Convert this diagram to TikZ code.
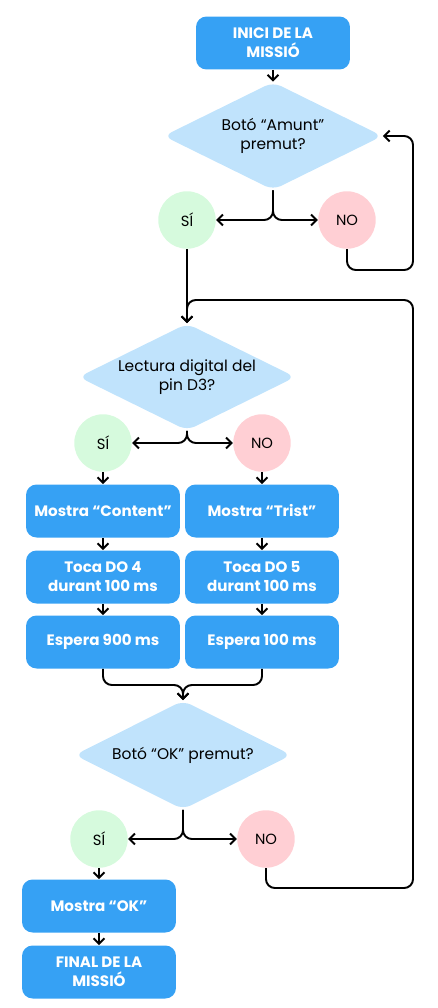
\documentclass[tikz,border=0pt]{standalone}
\usepackage{fontspec}
\setmainfont{Poppins}
\usepackage{tikz}
\usepackage{xcolor}
\usetikzlibrary{shapes.geometric, arrows.meta, positioning, calc}
\definecolor{FlowBlue}{HTML}{36A1F4}
\definecolor{FlowSky}{HTML}{C0E3FC}
\definecolor{FlowMint}{HTML}{D6FADD}
\definecolor{FlowRose}{HTML}{FFCFD4}
\definecolor{FlowBlack}{HTML}{000000}
\definecolor{FlowWhite}{HTML}{FFFFFF}
\tikzset{
    % Node styles
    actionbox/.style={
        rectangle,
        rounded corners=6pt,
        draw=none,
        fill=FlowBlue,
        minimum width=3.08cm,
        minimum height=1.06cm,
        align=center,
        text=FlowWhite,
        font=\fontsize{8.6}{10.8}\selectfont\bfseries
    },
    questionbox/.style={
        diamond,
        aspect=2,
        rounded corners=5pt,
        draw=none,
        fill=FlowSky,
        inner sep=0pt,
        minimum width=4.34cm,
        minimum height=2.14cm,
        align=center,
        font=\fontsize{8.8}{10.8}\selectfont
    },
    yesdot/.style={
        circle,
        draw=none,
        fill=FlowMint,
        minimum size=1.15cm,
        inner sep=0pt,
        font=\fontsize{8.4}{9}\selectfont
    },
    nodot/.style={
        circle,
        draw=none,
        fill=FlowRose,
        minimum size=1.15cm,
        inner sep=0pt,
        font=\fontsize{8.4}{9}\selectfont
    },
    % Arrow styles
    myarrow/.style={
        -{Straight Barb[length=1.1mm,width=2.2mm]},
        line width=1.1pt,
        rounded corners=5pt,
        FlowBlack
    }
}
\begin{document}
\begin{tikzpicture}[x=0.02cm, y=-0.02cm]
    \useasboundingbox (0,0) rectangle (437,1008);

    % Start and first question
    \node[actionbox] (start) at (273,43) {INICI DE LA\\MISSIÓ};
    \node[questionbox,minimum width=4.38cm,minimum height=2.16cm] (amunt) at (273,136) {Botó “Amunt”\\premut?};
    \node[yesdot] (yes1) at (187,220) {SÍ};
    \node[nodot] (no1) at (347,220) {NO};

    % Second question
    \node[questionbox] (pin) at (187,377) {Lectura digital del\\pin D3?};
    \node[yesdot] (yes2) at (103,443) {SÍ};
    \node[nodot] (no2) at (262,443) {NO};

    % Two branches
    \node[actionbox] (content) at (103,511) {Mostra “Content”};
    \node[actionbox] (toneL) at (103,577) {Toca DO 4\\durant 100 ms};
    \node[actionbox] (waitL) at (103,642) {Espera 900 ms};
    \node[actionbox] (trist) at (262,511) {Mostra “Trist”};
    \node[actionbox] (toneR) at (262,577) {Toca DO 5\\durant 100 ms};
    \node[actionbox] (waitR) at (262,642) {Espera 100 ms};

    % Third question and end
    \node[questionbox,minimum height=2.18cm] (ok) at (183,755) {Botó “OK” premut?};
    \node[yesdot] (yes3) at (99,839) {SÍ};
    \node[nodot] (no3) at (266,839) {NO};
    \node[actionbox] (showok) at (99,906) {Mostra “OK”};
    \node[actionbox] (finish) at (99,972) {FINAL DE LA\\MISSIÓ};

    % Helper points
    \coordinate (loop1) at (413,270);
    \coordinate (loop3) at (413,888);
    \coordinate (join) at (187,300);
    \coordinate (merge) at (183,685);

    \draw[myarrow] (start.south) -- (amunt.north);
    \draw[myarrow] (amunt.south) |- (yes1.east);
    \draw[myarrow] (amunt.south) |- (no1.west);
    \draw[myarrow] (no1.south) |- (loop1) |- (amunt.east);
    \draw[myarrow] (yes1.south) -- (pin.north);
    \draw[myarrow] (pin.south) |- (yes2.east);
    \draw[myarrow] (pin.south) |- (no2.west);
    \draw[myarrow] (yes2.south) -- (content.north);
    \draw[myarrow] (content.south) -- (toneL.north);
    \draw[myarrow] (toneL.south) -- (waitL.north);
    \draw[myarrow] (no2.south) -- (trist.north);
    \draw[myarrow] (trist.south) -- (toneR.north);
    \draw[myarrow] (toneR.south) -- (waitR.north);
    \draw[myarrow] (waitL.south) |- (merge) -- (ok.north);
    \draw[myarrow] (waitR.south) |- (merge) -- (ok.north);
    \draw[myarrow] (ok.south) |- (yes3.east);
    \draw[myarrow] (ok.south) |- (no3.west);
    \draw[myarrow] (no3.south) |- (loop3) |- (join) -- (pin.north);
    \draw[myarrow] (yes3.south) -- (showok.north);
    \draw[myarrow] (showok.south) -- (finish.north);
\end{tikzpicture}
\end{document}
